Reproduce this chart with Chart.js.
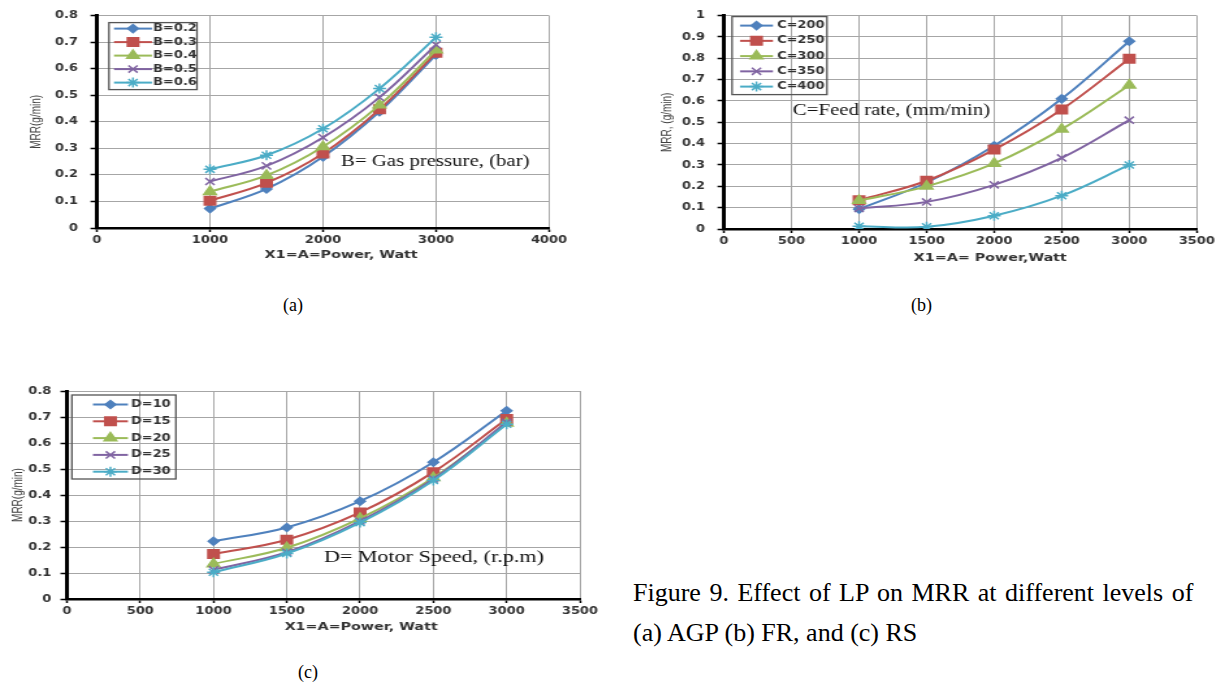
<!DOCTYPE html>
<html>
<head>
<meta charset="utf-8">
<script src="https://cdn.jsdelivr.net/npm/chart.js@4.4.1/dist/chart.umd.min.js"></script>
<style>
html,body{margin:0;padding:0;background:#fff;}
body{width:1224px;height:686px;position:relative;overflow:hidden;font-family:"Liberation Serif","Times New Roman",serif;color:#000;}
.panel{position:absolute;transform-origin:0 0;transform:scaleX(1.3);}
.panel canvas{display:block;}
.lbl{position:absolute;font-size:18px;line-height:20px;white-space:nowrap;}
.cap{position:absolute;font-size:26px;line-height:40px;white-space:nowrap;}
</style>
</head>
<body>
<div class="panel" style="left:0px;top:0px"><canvas id="chartA" width="446" height="270"></canvas></div>
<div class="panel" style="left:640px;top:0px"><canvas id="chartB" width="449" height="270"></canvas></div>
<div class="panel" style="left:0px;top:370px"><canvas id="chartC" width="462" height="270"></canvas></div>
<div class="lbl" style="left:283px;top:295px">(a)</div>
<div class="lbl" style="left:911px;top:295px">(b)</div>
<div class="lbl" style="left:298px;top:662px">(c)</div>
<div class="cap" style="left:633px;top:573px;word-spacing:2px">Figure 9. Effect of LP on MRR at different levels of</div>
<div class="cap" style="left:633px;top:613px">(a) AGP (b) FR, and (c) RS</div>
<script>
// ---------- data ----------
const powerLevels = [1000, 1500, 2000, 2500, 3000];

// (a) gas pressure
const pressureLabels = ['B=0.2', 'B=0.3', 'B=0.4', 'B=0.5', 'B=0.6'];
const mrrB02 = [0.073, 0.147, 0.268, 0.438, 0.652];
const mrrB03 = [0.103, 0.170, 0.281, 0.447, 0.660];
const mrrB04 = [0.137, 0.198, 0.306, 0.463, 0.670];
const mrrB05 = [0.175, 0.234, 0.341, 0.492, 0.690];
const mrrB06 = [0.221, 0.274, 0.374, 0.525, 0.718];

// (b) feed rate
const feedLabels = ['C=200', 'C=250', 'C=300', 'C=350', 'C=400'];
const mrrC200 = [0.093, 0.218, 0.390, 0.610, 0.880];
const mrrC250 = [0.135, 0.226, 0.372, 0.560, 0.798];
const mrrC300 = [0.133, 0.200, 0.307, 0.468, 0.674];
const mrrC350 = [0.096, 0.127, 0.207, 0.333, 0.510];
const mrrC400 = [0.013, 0.010, 0.062, 0.156, 0.300];

// (c) motor speed
const speedLabels = ['D=10', 'D=15', 'D=20', 'D=25', 'D=30'];
const mrrD10 = [0.222, 0.275, 0.376, 0.526, 0.724];
const mrrD15 = [0.173, 0.228, 0.333, 0.488, 0.692];
const mrrD20 = [0.135, 0.197, 0.310, 0.466, 0.676];
const mrrD25 = [0.112, 0.180, 0.300, 0.462, 0.680];
const mrrD30 = [0.103, 0.175, 0.294, 0.456, 0.672];

// ---------- styles ----------
const seriesColors = ['#4F81BD', '#C0504D', '#9BBB59', '#8064A2', '#4BACC6'];
const seriesMarkers = ['rectRot', 'rect', 'triangle', 'crossRot', 'star'];
const markerRadius = [4, 6, 5.5, 5, 5];
const tickFont = {family: 'DejaVu Sans', size: 10, weight: 'bold'};
const tickColor = '#333';
const gridColor = '#a6a6a6';

function makeDatasets(labels, series) {
  return series.map((vals, i) => ({
    label: labels[i],
    data: powerLevels.map((x, j) => ({x: x, y: vals[j]})),
    borderColor: seriesColors[i],
    backgroundColor: seriesColors[i],
    pointStyle: seriesMarkers[i],
    pointRadius: markerRadius[i],
    pointHoverRadius: markerRadius[i],
    pointBorderWidth: 1.5,
    borderWidth: 2,
    tension: 0.38,
    fill: false,
    order: series.length - i
  }));
}

// legend drawn inside the plot area, built from the datasets
const boxLegend = {
  id: 'boxLegend',
  afterDatasetsDraw(chart, args, o) {
    if (!o || !o.box) return;
    const ctx = chart.ctx, ca = chart.chartArea;
    ctx.save();
    const bx = ca.left + o.box[0], by = ca.top + o.box[1];
    ctx.strokeStyle = '#555';
    ctx.lineWidth = 1.3;
    ctx.strokeRect(bx, by, o.box[2], o.box[3]);
    ctx.font = 'bold 10px "DejaVu Sans"';
    ctx.textBaseline = 'middle';
    ctx.textAlign = 'left';
    chart.data.datasets.forEach((ds, i) => {
      const y = by + o.rowStart + i * o.rowGap;
      const x1 = ca.left + o.line[0], x2 = ca.left + o.line[1];
      ctx.strokeStyle = ds.borderColor;
      ctx.fillStyle = ds.borderColor;
      ctx.lineWidth = ds.borderWidth;
      ctx.beginPath(); ctx.moveTo(x1, y); ctx.lineTo(x2, y); ctx.stroke();
      ctx.lineWidth = ds.pointBorderWidth;
      if (Chart.helpers && Chart.helpers.drawPoint) {
        Chart.helpers.drawPoint(ctx, {pointStyle: ds.pointStyle, radius: ds.pointRadius, borderWidth: ds.pointBorderWidth, rotation: 0}, (x1 + x2) / 2, y);
      }
      ctx.fillStyle = tickColor;
      ctx.fillText(ds.label, ca.left + o.textX, y);
    });
    ctx.restore();
  }
};

// in-plot note and x-axis title
const chartTexts = {
  id: 'chartTexts',
  afterDraw(chart, args, o) {
    if (!o) return;
    const ctx = chart.ctx, ca = chart.chartArea;
    ctx.save();
    if (o.note) {
      ctx.font = o.noteSize + 'px "Liberation Serif"';
      ctx.fillStyle = '#111';
      ctx.textAlign = 'left';
      ctx.textBaseline = 'middle';
      ctx.fillText(o.note, chart.scales.x.getPixelForValue(o.noteAt[0]), chart.scales.y.getPixelForValue(o.noteAt[1]));
    }
    if (o.xTitle) {
      ctx.font = 'bold 11px "DejaVu Sans"';
      ctx.fillStyle = tickColor;
      ctx.textAlign = 'center';
      ctx.textBaseline = 'middle';
      ctx.fillText(o.xTitle, (ca.left + ca.right) / 2 + o.xTitleDx, ca.bottom + o.xTitleDy);
    }
    ctx.restore();
  }
};

function makeChart(id, cfg) {
  return new Chart(document.getElementById(id), {
    type: 'line',
    data: {datasets: makeDatasets(cfg.labels, cfg.series)},
    plugins: [boxLegend, chartTexts],
    options: {
      responsive: false,
      animation: false,
      devicePixelRatio: 1,
      layout: {padding: {left: 0, top: cfg.padTop, right: cfg.padRight, bottom: 0}},
      plugins: {
        legend: {display: false},
        tooltip: {enabled: false},
        boxLegend: cfg.legend,
        chartTexts: cfg.texts
      },
      scales: {
        x: {
          type: 'linear', min: 0, max: cfg.xMax,
          ticks: {stepSize: cfg.xStep, font: tickFont, color: tickColor, padding: 2, maxRotation: 0, autoSkip: false,
                  callback: v => String(v)},
          grid: {color: gridColor, lineWidth: 1, tickLength: 4, tickColor: '#000', tickWidth: 1.5},
          border: {color: '#000', width: 2.5},
          afterFit(s) { s.height = cfg.xAxisH; }
        },
        y: {
          type: 'linear', min: 0, max: cfg.yMax,
          ticks: {stepSize: 0.1, font: tickFont, color: tickColor, padding: cfg.yTickPad,
                  callback: v => String(Math.round(v * 10) / 10)},
          grid: {color: gridColor, lineWidth: 1, tickLength: 5, tickColor: '#000', tickWidth: 1.5},
          border: {color: '#000', width: 3},
          title: {display: true, text: cfg.yTitle, color: '#404040',
                  font: {family: 'Liberation Sans', size: 10}, padding: {top: cfg.yTitlePad, bottom: 0}},
          afterFit(s) { s.width = cfg.yAxisW; }
        }
      }
    }
  });
}

makeChart('chartA', {
  labels: pressureLabels,
  series: [mrrB02, mrrB03, mrrB04, mrrB05, mrrB06],
  xMax: 4000, xStep: 1000, yMax: 0.8,
  padTop: 15, padRight: 23.7, yAxisW: 74.6, xAxisH: 42, yTickPad: 9.6, yTitlePad: 22.5,
  yTitle: 'MRR(g/min)',
  legend: {box: [9.2, 7, 67.7, 67], rowStart: 6, rowGap: 13.5, line: [13.1, 42.3], textX: 43.1},
  texts: {note: 'B= Gas pressure, (bar)', noteSize: 16, noteAt: [2160, 0.251],
          xTitle: 'X1=A=Power, Watt', xTitleDx: 14, xTitleDy: 27}
});

makeChart('chartB', {
  labels: feedLabels,
  series: [mrrC200, mrrC250, mrrC300, mrrC350, mrrC400],
  xMax: 3500, xStep: 500, yMax: 1,
  padTop: 8, padRight: 20.7, yAxisW: 64.6, xAxisH: 41, yTickPad: 9.6, yTitlePad: 14.8,
  yTitle: 'MRR, (g/min)',
  legend: {box: [6.2, 1, 73, 78], rowStart: 9, rowGap: 15.25, line: [12.3, 37.7], textX: 40.8},
  texts: {note: 'C=Feed rate, (mm/min)', noteSize: 16, noteAt: [510, 0.552],
          xTitle: 'X1=A= Power,Watt', xTitleDx: 23, xTitleDy: 29}
});

makeChart('chartC', {
  labels: speedLabels,
  series: [mrrD10, mrrD15, mrrD20, mrrD25, mrrD30],
  xMax: 3500, xStep: 500, yMax: 0.8,
  padTop: 21, padRight: 13.8, yAxisW: 51.5, xAxisH: 41, yTickPad: 7, yTitlePad: 7.8,
  yTitle: 'MRR(g/min)',
  legend: {box: [3.8, 4, 80, 84], rowStart: 9.5, rowGap: 16.8, line: [20, 46.9], textX: 49.2},
  texts: {note: 'D= Motor Speed, (r.p.m)', noteSize: 17, noteAt: [1753, 0.158],
          xTitle: 'X1=A=Power, Watt', xTitleDx: 29, xTitleDy: 28}
});
</script>
</body>
</html>
